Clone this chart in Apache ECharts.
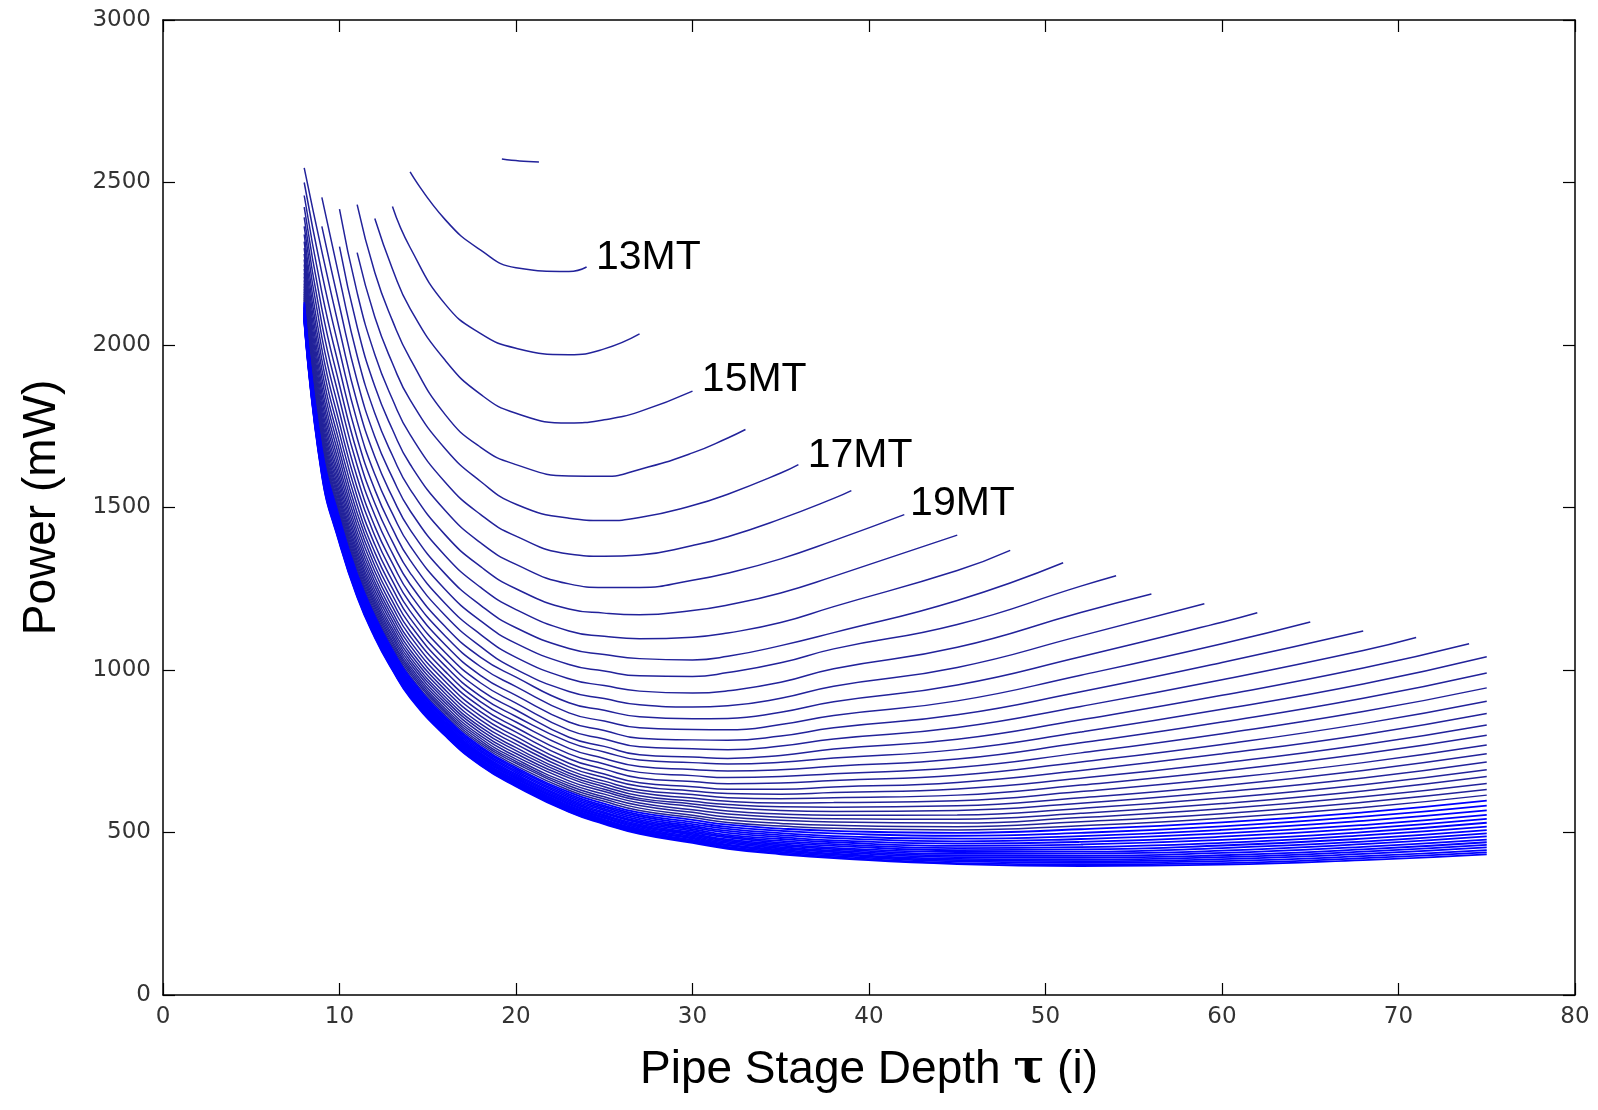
<!DOCTYPE html>
<html>
<head>
<meta charset="utf-8">
<script src="https://cdn.jsdelivr.net/npm/echarts@6/dist/echarts.min.js"></script>
<style>
html,body{margin:0;padding:0;background:#fff;}
#chart{width:1598px;height:1110px;}
</style>
</head>
<body>
<div id="chart"></div>
<script>
// ---- data ----
const xTicks = [0, 10, 20, 30, 40, 50, 60, 70, 80];
const yTicks = [0, 500, 1000, 1500, 2000, 2500, 3000];

// pipe stage depth columns at which each curve's power is read
const tauGrid = [8, 9, 10, 11, 12, 13, 14, 16, 18, 20, 23, 25, 27, 30, 32, 35, 38, 45, 52, 60, 68, 75];

// 12MT: only a short piece is visible near the top
const mt12Tau = [19.2, 20.2, 21.3];
const mt12Power = [2572, 2566, 2563];

const mtList = [13,14,15,16,17,18,19,20,21,22,23,24,25,26,27,28,29,30,31,32,33,34,35,36,37,38,39,40,
  41,42,43,44,45,46,47,48,49,50,51,52,53,54,55,56,57,58,59,60,61,62];

const _ = null;
// rows follow mtList, columns follow tauGrid (power in mW)
const powerTable = [
  [_,_,_,_,_,_,2533,2385,2292,2238,2226,_,_,_,_,_,_,_,_,_,_,_],
  [_,_,_,_,_,2426,2300,2125,2035,1990,1970,1988,_,_,_,_,_,_,_,_,_,_],
  [_,_,_,_,2389,2234,2112,1952,1848,1790,1760,1770,1795,_,_,_,_,_,_,_,_,_],
  [_,_,_,2432,2223,2075,1958,1785,1685,1632,1597,1596,1617,1668,1714,_,_,_,_,_,_,_],
  [_,_,_,2284,2086,1944,1831,1680,1580,1510,1467,1460,1469,1506,1541,1606,_,_,_,_,_,_],
  [_,_,2418,2161,1971,1833,1724,1577,1478,1412,1357,1350,1354,1383,1410,1465,1528,_,_,_,_,_],
  [_,_,2303,2056,1873,1740,1633,1490,1391,1325,1265,1254,1254,1276,1298,1342,1398,_,_,_,_,_],
  [_,2454,2205,1967,1790,1660,1556,1415,1318,1250,1188,1175,1170,1183,1200,1237,1288,_,_,_,_,_],
  [_,2365,2120,1890,1718,1592,1490,1351,1254,1186,1120,1104,1096,1101,1114,1146,1195,1306,_,_,_,_],
  [2545,2288,2047,1823,1656,1532,1432,1295,1199,1130,1066,1048,1035,1031,1042,1075,1115,1214,_,_,_,_],
  [2500,2221,1983,1765,1602,1481,1382,1247,1151,1082,1017,997,982,980,992,1022,1065,1140,1258,_,_,_],
  [2460,2162,1927,1714,1555,1435,1338,1204,1109,1039,973,952,935,929,936,962,1004,1070,1177,_,_,_],
  [2424,2111,1877,1669,1513,1395,1299,1167,1072,1002,934,912,893,886,890,913,950,1008,1105,_,_,_],
  [2393,2065,1834,1629,1476,1359,1264,1133,1039,978,899,876,856,850,851,870,902,954,1041,1147,_,_],
  [2365,2024,1794,1593,1442,1328,1233,1104,1010,949,868,843,822,817,816,832,860,905,984,1081,_,_],
  [2340,1987,1759,1561,1413,1299,1206,1077,983,922,840,814,790,785,784,797,822,862,933,1023,_,_],
  [2318,1954,1728,1533,1386,1274,1181,1053,960,898,815,788,764,758,755,766,788,823,888,970,1060,_],
  [2298,1924,1699,1507,1362,1251,1159,1032,938,877,793,765,739,732,728,737,757,787,847,922,1006,_],
  [2280,1897,1674,1483,1340,1230,1139,1012,919,857,778,748,723,715,711,716,729,755,809,879,957,1041],
  [2263,1873,1651,1462,1321,1211,1120,995,902,840,759,728,703,694,689,693,704,726,776,840,913,991],
  [2248,1851,1629,1443,1303,1194,1104,978,886,823,742,711,685,675,669,672,681,700,745,804,872,945],
  [2234,1831,1610,1425,1286,1178,1088,964,871,809,727,695,668,657,650,652,660,676,717,771,835,904],
  [2221,1812,1592,1409,1271,1164,1075,950,858,795,713,680,653,641,633,633,640,654,691,742,801,866],
  [2210,1795,1576,1394,1258,1151,1062,938,846,783,702,669,642,628,620,618,623,634,667,714,770,831],
  [2199,1779,1561,1381,1245,1139,1050,927,834,772,692,658,631,617,607,604,607,615,646,689,742,799],
  [2189,1765,1547,1368,1233,1127,1039,916,824,761,683,649,622,606,596,591,592,598,626,666,715,769],
  [2180,1751,1534,1357,1222,1117,1029,907,815,752,675,641,613,596,586,579,578,582,607,644,691,742],
  [2172,1739,1523,1346,1212,1107,1020,898,806,743,668,633,605,588,577,568,565,568,590,625,668,717],
  [2164,1728,1512,1336,1203,1099,1011,889,797,734,659,626,599,580,566,557,553,554,574,606,647,693],
  [2157,1717,1501,1327,1195,1090,1003,881,790,726,651,618,591,570,557,547,542,541,559,589,628,672],
  [2150,1707,1492,1318,1187,1083,996,874,783,719,644,610,583,562,548,538,532,529,546,573,610,651],
  [2144,1698,1483,1310,1179,1075,989,868,776,713,637,603,575,553,539,528,522,518,533,558,593,632],
  [2138,1689,1475,1302,1172,1069,982,861,770,706,630,596,568,546,531,520,513,508,521,544,577,615],
  [2132,1681,1467,1295,1166,1062,976,855,764,700,624,589,561,539,524,512,505,499,510,531,562,598],
  [2127,1673,1460,1289,1159,1057,971,850,759,695,618,583,555,532,517,505,497,490,499,519,549,583],
  [2122,1666,1453,1283,1154,1051,965,845,754,690,613,578,550,526,511,498,489,481,489,508,536,568],
  [2118,1660,1447,1277,1148,1046,960,840,749,685,608,573,544,520,505,492,483,473,480,497,523,554],
  [2114,1653,1441,1271,1143,1041,955,835,744,680,603,568,539,515,499,486,476,466,471,487,512,542],
  [2110,1647,1435,1266,1138,1036,951,831,740,676,599,563,534,510,493,480,470,459,463,477,501,530],
  [2106,1642,1430,1261,1134,1032,947,827,736,672,594,559,530,505,488,474,464,452,455,468,491,518],
  [2102,1637,1425,1257,1130,1028,943,823,732,668,590,554,525,500,484,469,459,446,448,460,481,507],
  [2099,1632,1420,1252,1126,1024,939,820,729,665,587,551,521,496,479,464,453,440,441,452,472,497],
  [2096,1627,1415,1248,1122,1021,936,816,725,661,583,547,518,492,475,460,449,434,435,444,464,488],
  [2093,1622,1411,1245,1118,1017,932,813,722,658,580,544,514,488,471,455,444,429,428,437,456,478],
  [2090,1618,1407,1241,1115,1014,929,810,719,655,577,540,510,484,467,451,440,424,423,430,448,470],
  [2087,1614,1403,1237,1112,1011,926,807,716,652,574,537,507,481,463,447,435,419,417,424,441,462],
  [2084,1610,1400,1234,1108,1008,923,804,713,649,571,534,504,477,460,444,432,415,412,418,434,454],
  [2082,1607,1396,1231,1106,1005,920,802,711,647,568,531,501,474,456,440,428,411,407,412,427,446],
  [2080,1603,1393,1228,1103,1002,918,799,708,644,565,528,498,471,453,436,424,406,402,406,421,439],
  [2077,1600,1390,1225,1100,1000,915,797,706,642,563,526,496,468,450,433,421,403,397,401,415,433]
];

// last point of the curves that stop before the right edge (13MT ... 30MT)
const endTau   = [24, 27, 30, 33, 36, 39, 42, 45, 48, 51, 54, 56, 59, 62, 65, 68, 71, 74];
const endPower = [2240, 2034, 1858, 1740, 1632, 1552, 1478, 1415, 1368, 1330, 1290, 1234, 1204, 1176, 1148, 1120, 1100, 1081];

// curve labels
const labelText  = ['13MT', '15MT', '17MT', '19MT'];
const labelTau   = [24.5, 30.5, 36.5, 42.3];
const labelPower = [2268, 1892, 1658, 1512];

// ---- chart ----
const chart = echarts.init(document.getElementById('chart'), null, {renderer: 'canvas'});

function curveColor(n) { return n >= 46 ? '#0000ff' : '#22229a'; }

const series = [];
series.push({
  type: 'line', name: '12MT', showSymbol: false, silent: true, animation: false,
  smooth: 0.4, lineStyle: {width: 1.5, color: curveColor(12)},
  data: mt12Tau.map((t, i) => [t, mt12Power[i]])
});
mtList.forEach((n, i) => {
  const pts = [];
  tauGrid.forEach((t, j) => {
    const v = powerTable[i][j];
    if (v !== null) pts.push([t, v]);
  });
  if (i < endTau.length) pts.push([endTau[i], endPower[i]]);
  series.push({
    type: 'line', name: n + 'MT', showSymbol: false, silent: true, animation: false,
    smooth: 0.5,
    lineStyle: {width: n >= 46 ? 1.8 : 1.5, color: curveColor(n)},
    data: pts
  });
});
series.push({
  type: 'scatter', symbolSize: 1, silent: true, animation: false,
  itemStyle: {color: 'rgba(0,0,0,0)', opacity: 1},
  data: labelText.map((s, i) => ({value: [labelTau[i], labelPower[i]], name: s})),
  label: {
    show: true, position: 'right', distance: 0,
    formatter: p => p.name,
    fontFamily: 'Liberation Sans, Arial, sans-serif', fontSize: 41, color: '#000000', opacity: 1
  }
});

const tickLabel = {fontFamily: 'DejaVu Sans, sans-serif', fontSize: 23, color: '#333',
  formatter: v => String(v)};
const frameLine = {show: true, onZero: false, lineStyle: {color: '#000', width: 1.5}};
const innerTick = {show: true, inside: true, length: 12, lineStyle: {color: '#000', width: 1.2}};

chart.setOption({
  backgroundColor: '#fff',
  animation: false,
  grid: {left: 163, right: 23, top: 20, bottom: 115},
  xAxis: [{
    type: 'value', position: 'bottom', min: xTicks[0], max: xTicks[xTicks.length - 1], interval: 10,
    axisLine: frameLine, axisTick: innerTick, splitLine: {show: false},
    axisLabel: Object.assign({margin: 11}, tickLabel),
    name: 'Pipe Stage Depth {t|τ} (i)', nameLocation: 'middle', nameGap: 52,
    nameTextStyle: {fontFamily: 'Liberation Sans, Arial, sans-serif', fontSize: 46, color: '#000',
      rich: {t: {fontFamily: 'DejaVu Serif, serif', fontWeight: 'bold', fontSize: 46, color: '#000'}}}
  }, {
    type: 'value', position: 'top', min: 0, max: 80, interval: 10,
    axisLine: frameLine, axisTick: innerTick, splitLine: {show: false}, axisLabel: {show: false}
  }],
  yAxis: [{
    type: 'value', position: 'left', min: yTicks[0], max: yTicks[yTicks.length - 1], interval: 500,
    axisLine: frameLine, axisTick: innerTick, splitLine: {show: false},
    axisLabel: Object.assign({margin: 12}, tickLabel),
    name: 'Power (mW)', nameLocation: 'middle', nameGap: 98,
    nameTextStyle: {fontFamily: 'Liberation Sans, Arial, sans-serif', fontSize: 46, color: '#000'}
  }, {
    type: 'value', position: 'right', min: 0, max: 3000, interval: 500,
    axisLine: frameLine, axisTick: innerTick, splitLine: {show: false}, axisLabel: {show: false}
  }],
  series: series
});
</script>
</body>
</html>
